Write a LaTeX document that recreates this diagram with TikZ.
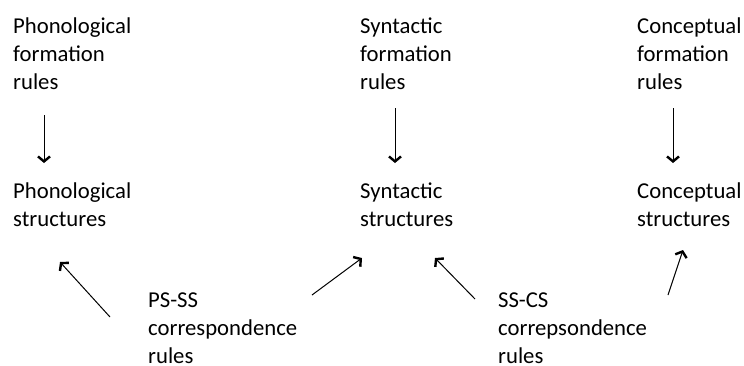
\documentclass[tikz,border=0pt]{standalone}
\usepackage{fontspec}
\setmainfont{Carlito}
\usetikzlibrary{arrows.meta}

\begin{document}
\begin{tikzpicture}[x=1pt, y=-1pt,
  every node/.style={font=\fontsize{22.7}{28}\selectfont, align=left, inner sep=0pt, anchor=base west},
  arr/.style={line width=1pt, -{Straight Barb[length=5pt, width=12pt, line width=2.4pt]}}]
  \useasboundingbox (0,0) rectangle (744,365);
  % formation rules and structures
  \node (phfr) at (13, 89) {Phonological\\formation\\rules};
  \node (syfr) at (360, 89) {Syntactic\\formation\\rules};
  \node (cofr) at (637, 89) {Conceptual\\formation\\rules};
  \node (phst) at (13, 226) {Phonological\\structures};
  \node (syst) at (360, 226) {Syntactic\\structures};
  \node (cost) at (637, 226) {Conceptual\\structures};
  % correspondence rules
  \node (pscr) at (148, 363) {PS-SS\\correspondence\\rules};
  \node (sccr) at (498, 363) {SS-CS\\correpsondence\\rules};
  % arrow ends
  \coordinate (pha) at (44, 115);  \coordinate (phb) at (44, 163);
  \coordinate (sya) at (395, 108); \coordinate (syb) at (395, 163);
  \coordinate (coa) at (673, 108); \coordinate (cob) at (673, 163);
  \coordinate (ps1) at (110, 317); \coordinate (ph1) at (60, 262);
  \coordinate (ps2) at (312, 295); \coordinate (sy2) at (362, 258);
  \coordinate (sc1) at (475, 299); \coordinate (sy1) at (435, 258);
  \coordinate (sc2) at (668, 295); \coordinate (co2) at (683, 250);
  \draw[arr] (pha) -- (phb);
  \draw[arr] (sya) -- (syb);
  \draw[arr] (coa) -- (cob);
  \draw[arr] (ps1) -- (ph1);
  \draw[arr] (ps2) -- (sy2);
  \draw[arr] (sc1) -- (sy1);
  \draw[arr] (sc2) -- (co2);
\end{tikzpicture}
\end{document}
